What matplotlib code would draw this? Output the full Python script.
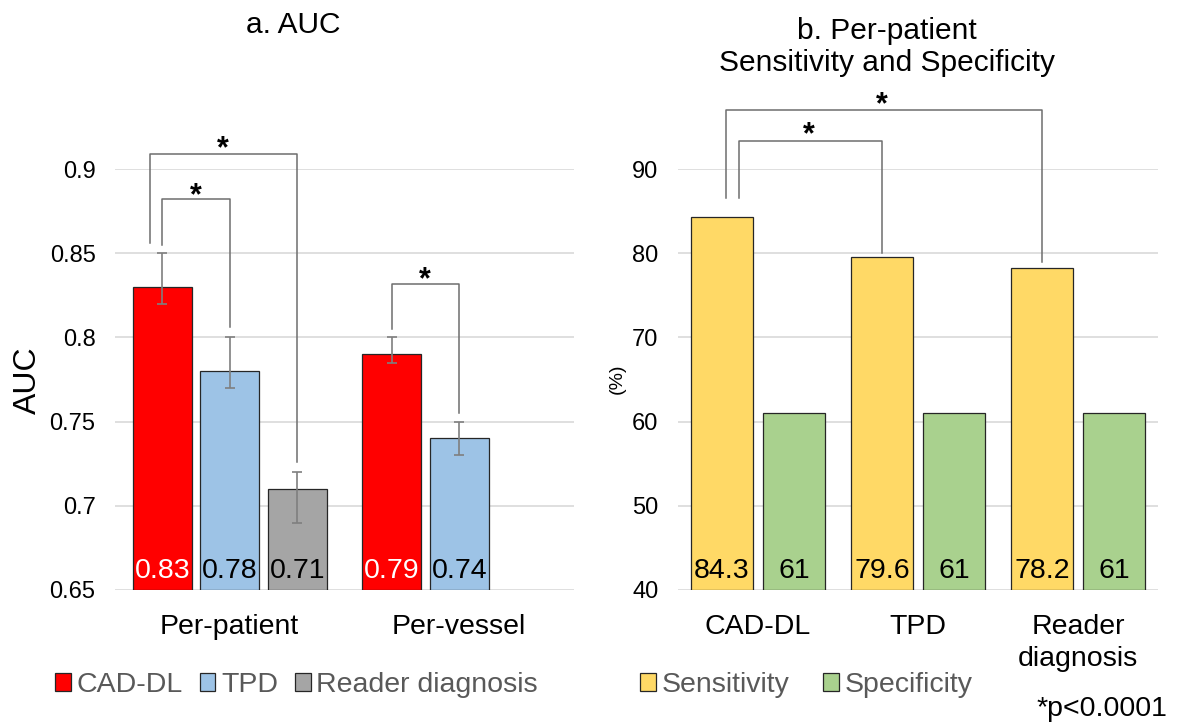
import numpy as np
import matplotlib
matplotlib.use("Agg")
import matplotlib.pyplot as plt
from matplotlib.patches import Patch

plt.rcParams['font.family'] = ['Liberation Sans', 'DejaVu Sans']

# ---- data, panel a (AUC) ----
groups_a = ["Per-patient", "Per-vessel"]
series_a = ["CAD-DL", "TPD", "Reader diagnosis"]
auc_cad = [0.83, 0.79]
auc_tpd = [0.78, 0.74]
auc_reader = [0.71, np.nan]
ci_low_cad = [0.82, 0.785]
ci_high_cad = [0.85, 0.80]
ci_low_tpd = [0.77, 0.73]
ci_high_tpd = [0.80, 0.75]
ci_low_reader = [0.69, np.nan]
ci_high_reader = [0.72, np.nan]
auc_ticks = [0.65, 0.7, 0.75, 0.8, 0.85, 0.9]
auc_ticklabels = ["0.65", "0.7", "0.75", "0.8", "0.85", "0.9"]

# ---- data, panel b (sensitivity / specificity) ----
groups_b = ["CAD-DL", "TPD", "Reader\ndiagnosis"]
series_b = ["Sensitivity", "Specificity"]
sensitivity = [84.3, 79.6, 78.2]
specificity = [61, 61, 61]
pct_ticks = [40, 50, 60, 70, 80, 90]

colors_a = ["#FF0000", "#9DC3E6", "#A5A5A5"]
colors_b = ["#FFD966", "#A9D18E"]
edge = "#262626"
grid_c = "#D9D9D9"
legend_c = "#595959"
brk_c = "#6E6E6E"

fig = plt.figure(figsize=(11.81, 7.25), dpi=100)
ax1 = fig.add_axes([115/1181, 135/725, 459/1181, 421/725])
ax2 = fig.add_axes([678/1181, 135/725, 480/1181, 421/725])

for ax in (ax1, ax2):
    for s in ax.spines.values():
        s.set_visible(False)
    ax.set_axisbelow(True)
    ax.yaxis.grid(True, color=grid_c, lw=1.2)
    ax.tick_params(axis='both', length=0)
    ax.tick_params(axis='y', labelsize=17, pad=14)
    ax.tick_params(axis='x', labelsize=20.5, pad=17)

# ---- panel a ----
x = np.arange(len(groups_a))
w, step = 0.258, 0.294
vals = [auc_cad, auc_tpd, auc_reader]
lows = [ci_low_cad, ci_low_tpd, ci_low_reader]
highs = [ci_high_cad, ci_high_tpd, ci_high_reader]
txt_cols = ["white", "black", "black"]
for i, (v, lo, hi) in enumerate(zip(vals, lows, highs)):
    v = np.array(v); lo = np.array(lo); hi = np.array(hi)
    xs = x + (i - 1) * step
    ax1.bar(xs, v - 0.65, width=w, bottom=0.65, color=colors_a[i],
            edgecolor=edge, lw=0.9, zorder=2)
    ax1.errorbar(xs, v, yerr=[v - lo, hi - v], fmt='none', ecolor="#7F7F7F",
                 elinewidth=1.2, capsize=3.5, capthick=1.2, zorder=3)
    for xx, vv in zip(xs, v):
        if not np.isnan(vv):
            ax1.annotate(f"{vv:.2f}", (xx, 0.65), xytext=(0, 9),
                         textcoords="offset points", ha='center', va='baseline',
                         fontsize=20.5, color=txt_cols[i], zorder=4)
ax1.set_xlim(-0.5, 1.5)
ax1.set_ylim(0.65, 0.9)
ax1.set_yticks(auc_ticks)
ax1.set_yticklabels(auc_ticklabels)
ax1.set_xticks(x)
ax1.set_xticklabels(groups_a)


def bracket(ax, x0, x1, y0, y1, top, star_x, star_y):
    ax.plot([x0, x0, x1, x1], [y0, top, top, y1], color=brk_c, lw=1.1,
            clip_on=False, zorder=5)
    ax.text(star_x, star_y, "*", ha='center', va='center', fontsize=22,
            fontweight='bold', clip_on=False)

# significance brackets, panel a
bracket(ax1, -0.347, x[0] + step, 0.856, 0.726, 0.909, -0.029, 0.912)
bracket(ax1, x[0] - step, x[0], 0.855, 0.806, 0.882, -0.149, 0.884)
bracket(ax1, x[1] - step, x[1], 0.805, 0.755, 0.832, 0.852, 0.834)

# ---- panel b ----
xb = np.arange(len(groups_b))
wb, stepb = 0.39, 0.45
for i, v in enumerate([sensitivity, specificity]):
    xs = xb + (i - 0.5) * stepb
    ax2.bar(xs, np.array(v) - 40, width=wb, bottom=40, color=colors_b[i],
            edgecolor=edge, lw=0.9, zorder=2)
    for xx, vv in zip(xs, v):
        ax2.annotate(f"{vv:g}", (xx, 40), xytext=(0, 9),
                     textcoords="offset points", ha='center', va='baseline',
                     fontsize=20.5, color="black", zorder=4)
ax2.set_xlim(-0.5, 2.5)
ax2.set_ylim(40, 90)
ax2.set_yticks(pct_ticks)
ax2.set_xticks(xb)
ax2.set_xticklabels(groups_b, linespacing=1.3)

bracket(ax2, -0.202, xb[2] - stepb / 2, 86.5, 79.0, 97.0, 0.775, 97.6)
bracket(ax2, -0.119, xb[1] - stepb / 2, 86.5, 80.0, 93.3, 0.318, 94.0)

# ---- titles / labels ----
fig.text(293/1181, 1 - 25/725, "a. AUC", ha='center', va='center', fontsize=21.5)
fig.text(887/1181, 1 - 47/725, "b. Per-patient\nSensitivity and Specificity",
         ha='center', va='center', fontsize=21.5, linespacing=1.15)
fig.text(28/1181, 1 - 380/725, "AUC", rotation=90, ha='center', va='center',
         fontsize=23)
fig.text(617/1181, 1 - 379/725, "(%)", rotation=90, ha='center', va='center',
         fontsize=14)
fig.text(1167/1181, 1 - 709/725, "*p<0.0001", ha='right', va='center',
         fontsize=20.5)

# ---- legends ----
h_a = [Patch(facecolor=c, edgecolor=edge, lw=0.9) for c in colors_a]
leg1 = fig.legend(h_a, series_a, loc='center left',
                  bbox_to_anchor=(55/1181, 1 - 685/725), ncol=3, frameon=False,
                  fontsize=20.5, handlelength=0.55, handleheight=0.55,
                  handletextpad=0.2, columnspacing=0.6, borderpad=0,
                  borderaxespad=0)
for t in leg1.get_texts():
    t.set_color(legend_c)

h_b = [Patch(facecolor=c, edgecolor=edge, lw=0.9) for c in colors_b]
leg2 = fig.legend(h_b, series_b, loc='center left',
                  bbox_to_anchor=(640/1181, 1 - 685/725), ncol=2, frameon=False,
                  fontsize=20.5, handlelength=0.55, handleheight=0.55,
                  handletextpad=0.2, columnspacing=1.2, borderpad=0,
                  borderaxespad=0)
for t in leg2.get_texts():
    t.set_color(legend_c)

fig.savefig("out.png", dpi=100)
